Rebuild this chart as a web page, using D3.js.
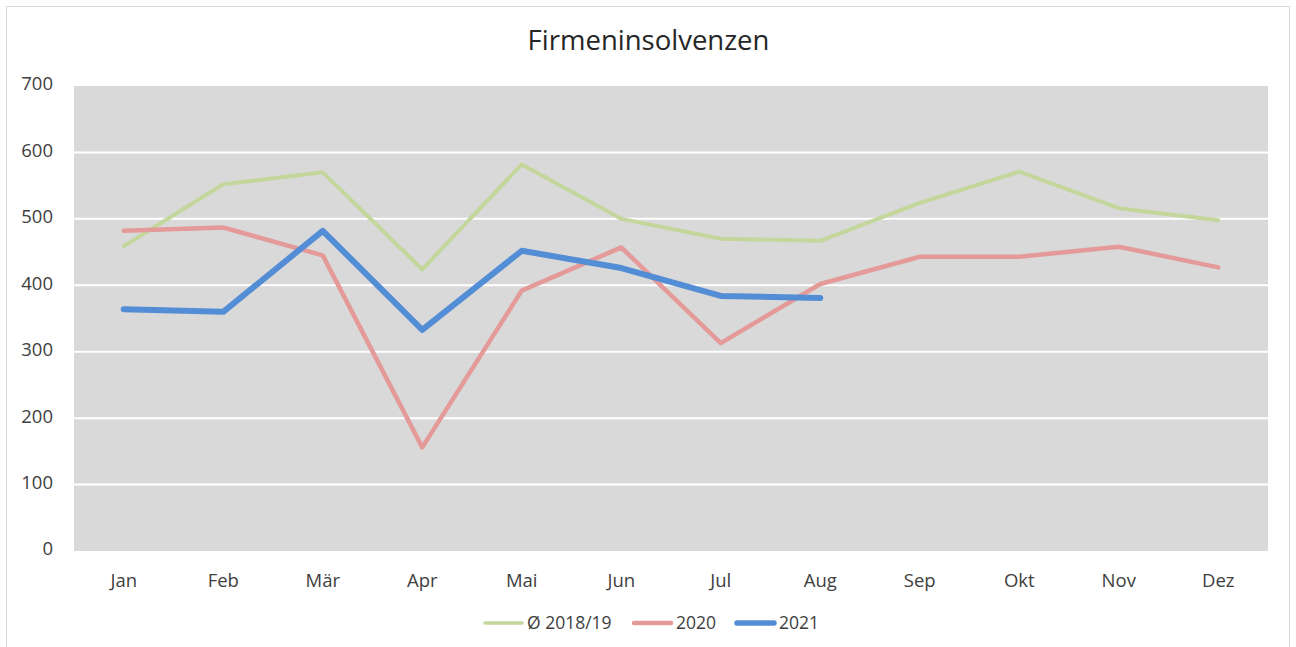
<!DOCTYPE html>
<html>
  <head>
    <meta charset="utf-8">
    <title>Firmeninsolvenzen</title>
    <script src="https://cdn.jsdelivr.net/npm/d3@7"></script>
    <style>
      body { margin: 0; background: #fff; }
      text { font-family: "Open Sans", sans-serif; fill: #404040; }
    </style>
  </head>
  <body>
    <div id="chart"></div>

    <script>
      // data
      let months = ["Jan", "Feb", "Mär", "Apr", "Mai", "Jun", "Jul", "Aug", "Sep", "Okt", "Nov", "Dez"];
      let avg1819 = [459, 552, 570, 424, 582, 500, 470, 467, 524, 571, 516, 498];
      let y2020 = [482, 487, 445, 156, 392, 457, 313, 402, 443, 443, 458, 427];
      let y2021 = [364, 360, 482, 333, 452, 426, 384, 381];
      let yTicks = [0, 100, 200, 300, 400, 500, 600, 700];

      let series = [
        { name: "Ø 2018/19", values: avg1819, colour: "#c3d69b", width: 4, legendWidth: 3.5 },
        { name: "2020", values: y2020, colour: "#e39a99", width: 4.5, legendWidth: 4.5 },
        { name: "2021", values: y2021, colour: "#538dd5", width: 6, legendWidth: 5.5 }
      ];

      let width = 1296, height = 647;
      let margin = { top: 86, right: 28, bottom: 96, left: 74 };

      let svg = d3.select("#chart")
        .append("svg")
          .attr("width", width)
          .attr("height", height);

      // frame
      svg.append("rect")
        .attr("x", 6.5)
        .attr("y", 6.5)
        .attr("width", 1283)
        .attr("height", 660)
        .style("fill", "none")
        .style("stroke", "#d9d9d9");

      let x = d3.scaleBand()
        .domain(months)
        .range([margin.left, width - margin.right]);
      let y = d3.scaleLinear()
        .domain([0, 700])
        .range([height - margin.bottom, margin.top]);

      // plot area
      svg.append("rect")
        .attr("x", margin.left)
        .attr("y", y(700))
        .attr("width", width - margin.right - margin.left)
        .attr("height", y(0) - y(700))
        .style("fill", "#d9d9d9");

      // gridlines
      svg.append("g")
        .selectAll("line")
          .data(yTicks.slice(1, -1))
        .enter().append("line")
          .attr("x1", margin.left)
          .attr("x2", width - margin.right)
          .attr("y1", function(d) { return y(d); })
          .attr("y2", function(d) { return y(d); })
          .style("stroke", "#fff")
          .style("stroke-width", 2);

      // y axis
      let yAxis = svg.append("g")
        .attr("transform", "translate(" + (margin.left - 21) + ",-2)")
        .call(d3.axisLeft(y).tickValues(yTicks).tickSize(0).tickPadding(0));
      yAxis.select(".domain").remove();
      yAxis.selectAll("text")
        .style("font-size", "18.5px")
        .style("font-family", "Open Sans, sans-serif")
        .style("fill", "#404040");

      // x axis
      let xAxis = svg.append("g")
        .attr("transform", "translate(0," + (y(0) + 23) + ")")
        .call(d3.axisBottom(x).tickSize(0).tickPadding(0));
      xAxis.select(".domain").remove();
      xAxis.selectAll("text")
        .style("font-size", "18.5px")
        .style("font-family", "Open Sans, sans-serif")
        .style("fill", "#404040");

      // lines
      let line = d3.line()
        .x(function(d, i) { return x(months[i]) + x.bandwidth() / 2; })
        .y(function(d) { return y(d); });

      svg.append("g")
        .selectAll("path")
          .data(series)
        .enter().append("path")
          .attr("d", function(d) { return line(d.values); })
          .style("fill", "none")
          .style("stroke", function(d) { return d.colour; })
          .style("stroke-width", function(d) { return d.width; })
          .style("stroke-linejoin", "round")
          .style("stroke-linecap", "round");

      // title
      svg.append("text")
        .attr("x", 648.5)
        .attr("y", 50)
        .attr("text-anchor", "middle")
        .style("font-size", "27.5px")
        .style("fill", "#262626")
        .text("Firmeninsolvenzen");

      // legend
      let legendX = [485, 634, 737];
      let legend = svg.append("g")
        .selectAll("g")
          .data(series)
        .enter().append("g")
          .attr("transform", function(d, i) { return "translate(" + legendX[i] + ",623)"; });
      legend.append("line")
        .attr("x1", 0)
        .attr("x2", 37)
        .style("stroke", function(d) { return d.colour; })
        .style("stroke-width", function(d) { return d.legendWidth; })
        .style("stroke-linecap", "round");
      legend.append("text")
        .attr("x", 42)
        .attr("dy", "0.35em")
        .style("font-size", "17.5px")
        .text(function(d) { return d.name; });
    </script>
  </body>
</html>
